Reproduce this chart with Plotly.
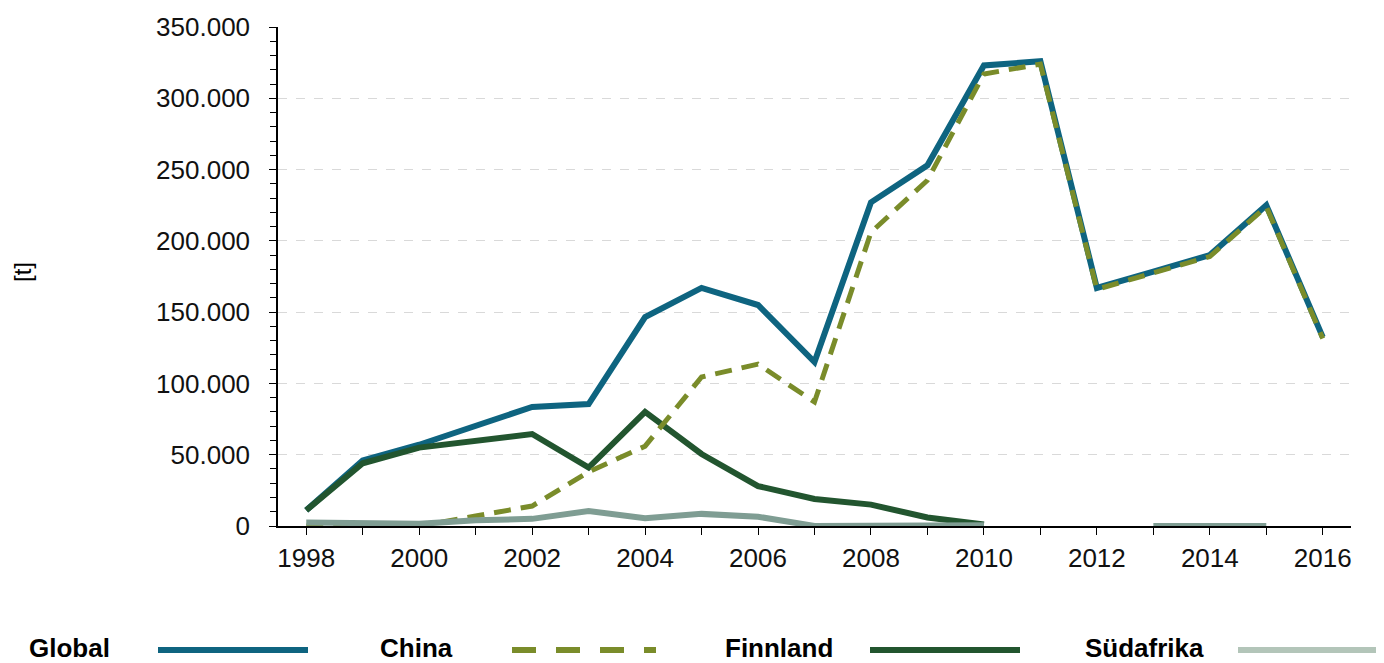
import plotly.graph_objects as go

years = list(range(1998, 2017))
global_t = [11000, 46000, 57000, 70000, 83500, 85500, 146500, 167000, 155000, 115000,
            227000, 253000, 323000, 326000, 167000, 178500, 190000, 225000, 132500]
china_t = [0, 0, 0, 7000, 14000, 38000, 56000, 104500, 113500, 87000,
           206000, 242500, 317000, 324000, 166000, 177500, 189000, 224000, 131500]
finnland_t = [11000, 44000, 55000, 60000, 64500, 41000, 80000, 50500, 28000, 19000,
              15000, 6000, 1000, None, None, None, None, None, None]
suedafrika_t = [2500, 1500, 1500, 4000, 5000, 10500, 5500, 8500, 6500, 0,
                500, 500, 500, None, None, 0, 0, 0, None]

series_names = ["Global", "China", "Finnland", "Südafrika"]
line_colors = {"Global": "#0e6480", "China": "#7a8c2a", "Finnland": "#22552f", "Südafrika": "#7f9d93"}
legend_colors = {"Global": "#0e6480", "China": "#7a8c2a", "Finnland": "#22552f", "Südafrika": "#b3c5b9"}
y_ticks = [0, 50000, 100000, 150000, 200000, 250000, 300000, 350000]
y_tick_labels = ["0", "50.000", "100.000", "150.000", "200.000", "250.000", "300.000", "350.000"]
x_ticks = list(range(1998, 2017, 2))

FONT = "Liberation Sans, Arial, sans-serif"

fig = go.Figure()
fig.add_trace(go.Scatter(x=years, y=global_t, mode="lines", name="Global",
                         line=dict(color=line_colors["Global"], width=6)))
fig.add_trace(go.Scatter(x=years, y=finnland_t, mode="lines", name="Finnland",
                         line=dict(color=line_colors["Finnland"], width=6)))
fig.add_trace(go.Scatter(x=years, y=china_t, mode="lines", name="China",
                         line=dict(color=line_colors["China"], width=5, dash="17px,10px")))
fig.add_trace(go.Scatter(x=years, y=suedafrika_t, mode="lines", name="Südafrika",
                         line=dict(color=line_colors["Südafrika"], width=6)))

# page body has an 8px margin; plot area should sit at x 278..1351, y 27..526 in the window
fig.update_layout(
    width=1384, height=663,
    margin=dict(l=270, r=41, t=19, b=145, autoexpand=False),
    paper_bgcolor="white", plot_bgcolor="white",
    showlegend=False,
    font=dict(family=FONT, color="#000000"),
)
fig.update_xaxes(
    range=[1997.5, 2016.5], automargin=False,
    tickmode="array", tickvals=x_ticks, ticktext=[str(v) for v in x_ticks],
    ticks="outside", ticklen=7, tickwidth=1, tickcolor="#000000",
    minor=dict(dtick=1, tick0=1998, ticks="outside", ticklen=7, tickwidth=1, tickcolor="#000000", showgrid=False),
    showline=True, linecolor="#000000", linewidth=1.5,
    showgrid=False, zeroline=False,
    tickfont=dict(size=26, family=FONT, color="#111111"),
    ticklabelstandoff=1,
)
fig.update_yaxes(
    range=[0, 350000], automargin=False,
    tickmode="array", tickvals=y_ticks, ticktext=y_tick_labels,
    ticks="outside", ticklen=7, tickwidth=1, tickcolor="#000000",
    minor=dict(dtick=10000, ticks="outside", ticklen=6, tickwidth=1, tickcolor="#000000", showgrid=False),
    showline=True, linecolor="#000000", linewidth=1.5,
    showgrid=True, gridcolor="#d9d9d9", griddash="dash", gridwidth=1,
    zeroline=False,
    tickfont=dict(size=26, family=FONT, color="#111111"),
    ticklabelstandoff=14,
)

# y-axis title
fig.add_annotation(text="[t]", xref="paper", yref="paper", x=-0.2386, y=0.509,
                   textangle=-90, showarrow=False, xanchor="center", yanchor="middle",
                   font=dict(size=24, family=FONT, color="#000000"))

# custom legend: text to the left, line sample to the right
pw, ph = 1073.0, 499.0
def px_x(p):
    return (p - 278) / pw
def px_y(p):
    return (526 - p) / ph

legend_items = [
    ("Global", 27, 158, 308, "solid"),
    ("China", 378, 512, 656, "24px,20px"),
    ("Finnland", 723, 870, 1020, "solid"),
    ("Südafrika", 1083, 1238, 1400, "solid"),
]
ly = 648
for name, tx, x0, x1, dash in legend_items:
    fig.add_annotation(text="<b>%s</b>" % name, xref="paper", yref="paper",
                       x=px_x(tx), y=px_y(ly), xanchor="left", yanchor="middle",
                       showarrow=False, font=dict(size=26, family=FONT, color="#000000"))
    fig.add_shape(type="line", xref="paper", yref="paper",
                  x0=px_x(x0), x1=px_x(x1), y0=px_y(650), y1=px_y(650),
                  line=dict(color=legend_colors[name], width=6, dash=dash))

fig.write_html("out.html")
